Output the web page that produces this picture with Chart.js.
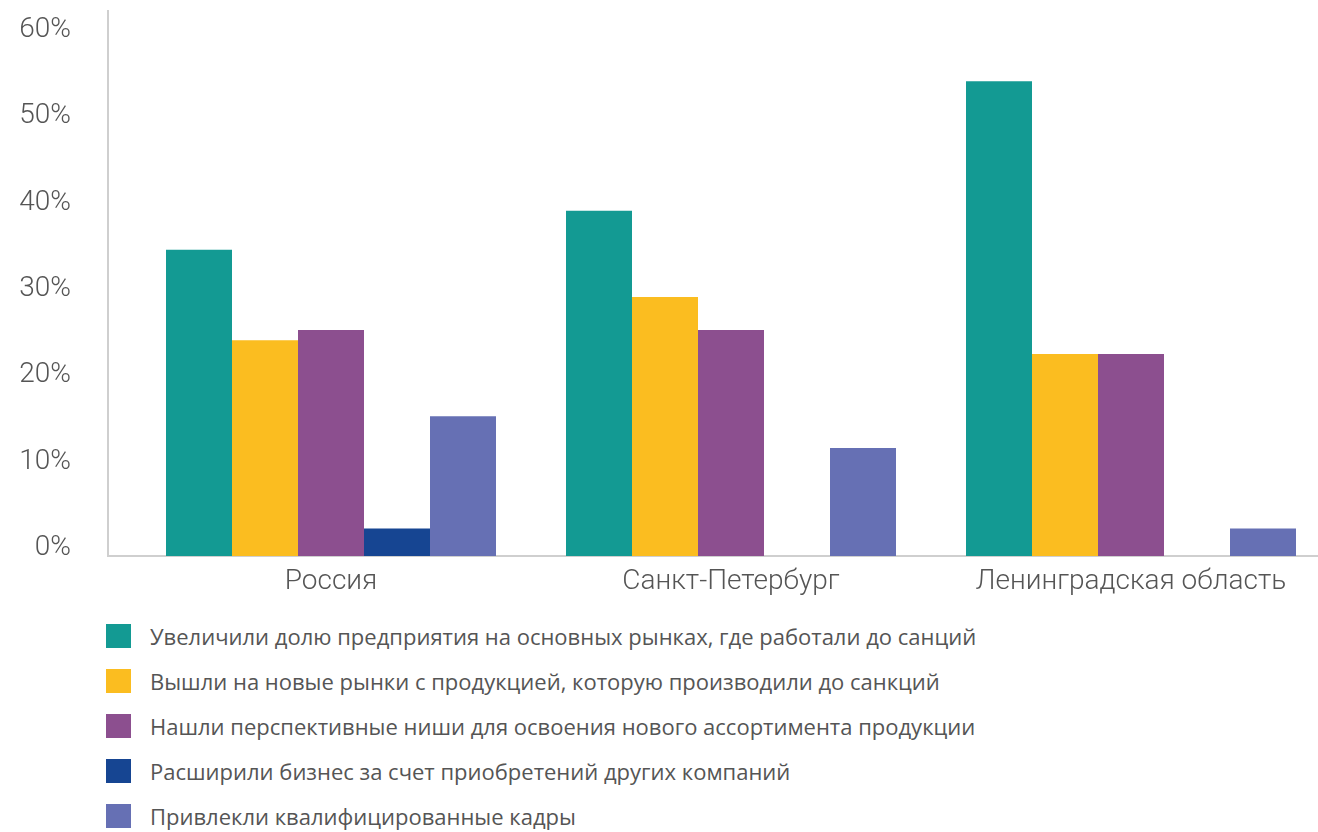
<!DOCTYPE html>
<html>
<head>
<meta charset="utf-8">
<script src="https://cdn.jsdelivr.net/npm/chart.js@4"></script>
<style>
  html, body { margin: 0; padding: 0; background: #fff; overflow: hidden; }
  #wrap { position: relative; width: 1318px; height: 612px; }
  #legend { margin: 1px 0 0 106px; padding: 0; list-style: none; }
  #legend li { display: flex; align-items: center; height: 45px; font-family: "Open Sans", sans-serif; font-size: 22px; color: #555; }
  #legend span.box { display: inline-block; width: 25px; height: 24px; margin-right: 19px; }
</style>
</head>
<body>
<div id="wrap"><canvas id="chart"></canvas></div>
<ul id="legend"></ul>
<script>
// категории и значения (в %)
const regions = ["Россия", "Санкт-Петербург", "Ленинградская область"];
const seriesNames = [
  "Увеличили долю предприятия на основных рынках, где работали до санций",
  "Вышли на новые рынки с продукцией, которую производили до санкций",
  "Нашли перспективные ниши для освоения нового ассортимента продукции",
  "Расширили бизнес за счет приобретений других компаний",
  "Привлекли квалифицированные кадры"
];
const colors = ["#139a93", "#fbbd20", "#8c4f8f", "#164592", "#6670b4"];
const share = [35.5, 40, 55];
const newMarkets = [25, 30, 23.4];
const niches = [26.2, 26.2, 23.4];
const acquisitions = [3.2, null, null];
const staff = [16.2, 12.5, 3.2];
const yTicks = [0, 10, 20, 30, 40, 50, 60];

const allSeries = [share, newMarkets, niches, acquisitions, staff];

const datasets = allSeries.map((vals, i) => ({
  label: seriesNames[i],
  backgroundColor: colors[i],
  borderWidth: 0,
  data: vals.map((v, j) => ({ x: j, y: v }))
}));

// тонкий шрифт для подписей осей
const thinFont = { family: 'Roboto', weight: '300', size: 28 };

// убираем отступы под крайние подписи, чтобы область графика была фиксированной
function noPad(s) {
  s.paddingLeft = 0; s.paddingRight = 0; s.paddingTop = 0; s.paddingBottom = 0;
}

const ctx = document.getElementById('chart').getContext('2d');
const chart = new Chart(ctx, {
  type: 'bar',
  data: { datasets: datasets },
  options: {
    responsive: true,
    maintainAspectRatio: false,
    animation: false,
    layout: { padding: { top: 11, left: 0, right: 0, bottom: 0 } },
    plugins: {
      legend: { display: false },
      tooltip: { enabled: false }
    },
    datasets: { bar: { barPercentage: 1, categoryPercentage: 0.825 } },
    scales: {
      x: {
        type: 'linear',
        offset: false,
        min: -0.5575,
        max: 2.4675,
        grid: { display: false, drawTicks: false, offset: false },
        border: { display: true, color: '#cfcfcf', width: 2 },
        afterBuildTicks: s => { s.ticks = regions.map((r, i) => ({ value: i })); },
        afterFit: s => { s.height = 56; noPad(s); },
        ticks: {
          padding: 9,
          maxRotation: 0,
          color: '#555',
          font: thinFont,
          callback: v => regions[v] || ''
        }
      },
      y: {
        min: 0,
        max: 63.15,
        grid: { display: false, drawTicks: false },
        border: { display: true, color: '#cfcfcf', width: 2 },
        afterBuildTicks: s => { s.ticks = yTicks.map(v => ({ value: v })); },
        afterFit: s => { s.width = 108; noPad(s); },
        ticks: {
          padding: 37,
          labelOffset: -8,
          color: '#555',
          font: thinFont,
          callback: v => v + '%'
        }
      }
    }
  }
});

// легенда списком, по одной строке на серию
const legend = document.getElementById('legend');
seriesNames.forEach((name, i) => {
  const li = document.createElement('li');
  const box = document.createElement('span');
  box.className = 'box';
  box.style.background = colors[i];
  li.appendChild(box);
  li.appendChild(document.createTextNode(name));
  legend.appendChild(li);
});
</script>
</body>
</html>
